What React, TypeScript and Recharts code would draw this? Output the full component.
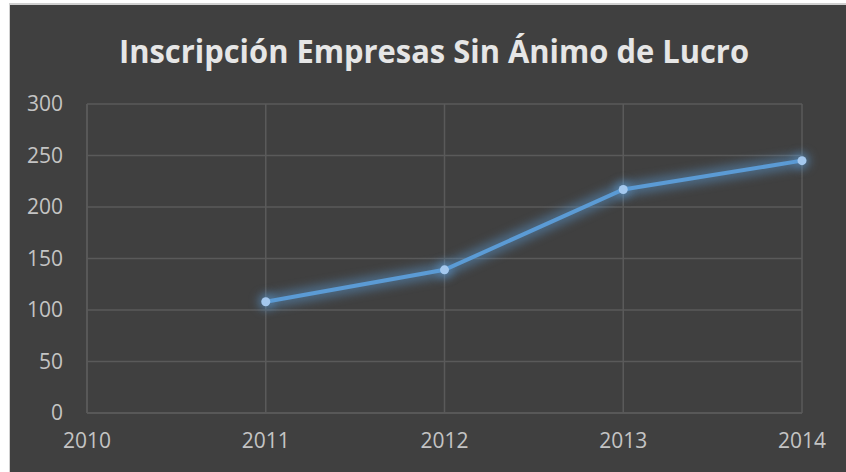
import { CartesianGrid, Line, LineChart, XAxis, YAxis } from "recharts";

const years = [2011, 2012, 2013, 2014];
const registrations = [108, 139, 217, 245];
const xTicks = [2010, 2011, 2012, 2013, 2014];
const yTicks = [0, 50, 100, 150, 200, 250, 300];

const data = years.map((year, i) => ({ year, value: registrations[i] }));

const axisColor = "#5a5a5a";
const tickStyle = { fill: "#c4c4c4", fontSize: 21, fontFamily: "'Open Sans', sans-serif" };

export default function App() {
  return (
    <div
      style={{
        position: "absolute",
        left: 9,
        top: 3,
        width: 836,
        height: 468,
        background: "#404040",
        borderTop: "2px solid #d0d0d0",
        borderLeft: "1px solid #d0d0d0",
      }}
    >
      <svg width={836} height={80} style={{ position: "absolute", left: 0, top: 0 }}>
        <text
          x={424}
          y={58}
          textAnchor="middle"
          textLength={630}
          lengthAdjust="spacingAndGlyphs"
          fill="#e6e6e6"
          fontSize={32}
          fontWeight="bold"
          fontFamily="'Open Sans', sans-serif"
        >
          Inscripción Empresas Sin Ánimo de Lucro
        </text>
      </svg>
      <LineChart width={836} height={466} data={data} margin={{ top: 99, right: 44, bottom: 0, left: 0 }}>
        <CartesianGrid stroke={axisColor} strokeWidth={1.5} horizontal vertical />
        <XAxis
          dataKey="year"
          type="number"
          domain={[2010, 2014]}
          ticks={xTicks}
          stroke={axisColor}
          strokeWidth={1.5}
          tickLine={false}
          tickSize={0}
          tickMargin={20}
          height={58}
          tick={tickStyle}
          interval={0}
        />
        <YAxis
          domain={[0, 300]}
          ticks={yTicks}
          stroke={axisColor}
          strokeWidth={1.5}
          tickLine={false}
          tickSize={0}
          tickMargin={24}
          width={77}
          tick={tickStyle}
          interval={0}
        />
        <Line
          dataKey="value"
          stroke="#5b9bd5"
          strokeOpacity={0.45}
          strokeWidth={14}
          dot={{ r: 8, fill: "#5b9bd5", fillOpacity: 0.5, stroke: "none" }}
          style={{ filter: "blur(5px)" }}
          isAnimationActive={false}
        />
        <Line
          dataKey="value"
          stroke="#5b9bd5"
          strokeWidth={4}
          dot={{ r: 4.5, fill: "#a4c8ee", stroke: "none" }}
          activeDot={false}
          isAnimationActive={false}
        />
      </LineChart>
    </div>
  );
}
